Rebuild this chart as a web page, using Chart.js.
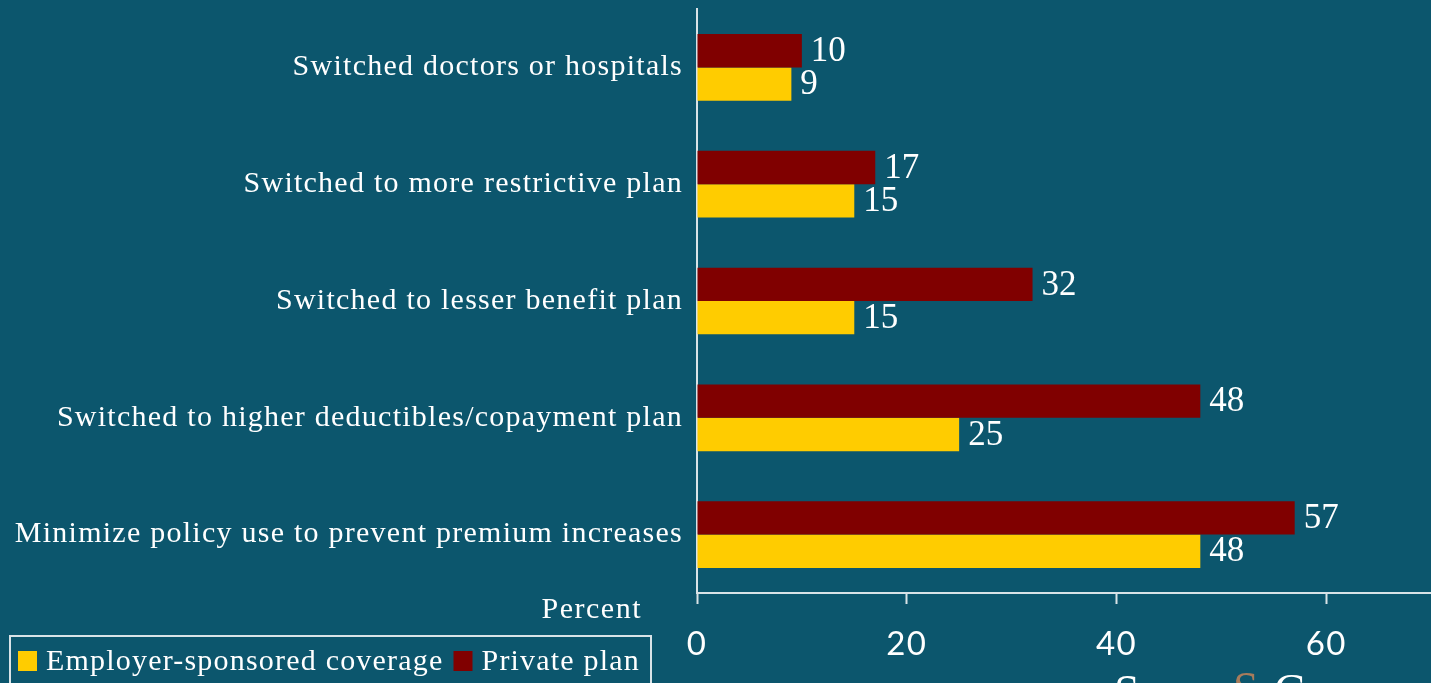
<!DOCTYPE html>
<html>
<head>
<meta charset="utf-8">
<script src="https://cdn.jsdelivr.net/npm/chart.js@4"></script>
<style>
    html, body { margin: 0; padding: 0; background: #0c566d; }
    #wrap { width: 1431px; height: 683px; position: relative; }
</style>
</head>
<body>
<div id="wrap"><canvas id="chart" width="1431" height="683"></canvas></div>
<script>
const categories = [
    'Switched doctors or hospitals',
    'Switched to more restrictive plan',
    'Switched to lesser benefit plan',
    'Switched to higher deductibles/copayment plan',
    'Minimize policy use to prevent premium increases'
];
const privatePlan = [10, 17, 32, 48, 57];
const employerCoverage = [9, 15, 15, 25, 48];
const xTicks = [0, 20, 40, 60];

const serif = "'Liberation Serif', 'Times New Roman', serif";
const axisColor = '#d9e3e7';

const spacing = {
    id: 'spacing',
    beforeDraw(chart){
        chart.ctx.letterSpacing = '1.25px';
    }
};

// value labels, axis title, legend box and the cut logo letters
const extras = {
    id: 'extras',
    afterDatasetsDraw(chart){
        const ctx = chart.ctx;
        ctx.save();
        ctx.font = '35px ' + serif;
        ctx.fillStyle = '#ffffff';
        ctx.textAlign = 'left';
        ctx.textBaseline = 'middle';
        ctx.letterSpacing = '0px';
        chart.data.datasets.forEach((ds, i) => {
            chart.getDatasetMeta(i).data.forEach((bar, j) => {
                ctx.fillText(String(ds.data[j]), bar.x + 9, bar.y + 1);
            });
        });
        ctx.restore();
    },
    afterDraw(chart){
        const ctx = chart.ctx;
        ctx.save();
        ctx.letterSpacing = '1.5px';
        ctx.fillStyle = '#ffffff';
        ctx.font = '30px ' + serif;
        ctx.textAlign = 'right';
        ctx.textBaseline = 'middle';
        ctx.fillText('Percent', 642, 610);

        // legend
        ctx.strokeStyle = axisColor;
        ctx.lineWidth = 2;
        ctx.strokeRect(10, 636, 641, 60);
        ctx.letterSpacing = '1.2px';
        ctx.textAlign = 'left';
        let x = 18;
        const items = [chart.data.datasets[1], chart.data.datasets[0]];
        items.forEach(ds => {
            ctx.fillStyle = ds.backgroundColor;
            ctx.fillRect(x, 651, 19, 20);
            ctx.fillStyle = '#ffffff';
            ctx.fillText(ds.label, x + 28, 662);
            x += 28 + ctx.measureText(ds.label).width + 10;
        });

        // logo letters cut by the bottom edge
        ctx.letterSpacing = '0px';
        ctx.textBaseline = 'alphabetic';
        ctx.font = '46px ' + serif;
        ctx.fillStyle = '#ffffff';
        ctx.fillText('S', 1114, 707);
        ctx.fillText('G', 1274, 706);
        ctx.fillStyle = '#a87c5c';
        ctx.fillText('S', 1233, 704);
        ctx.restore();
    }
};

new Chart('chart', {
    type: 'bar',
    data: {
        labels: categories,
        datasets: [
            {
                label: 'Private plan',
                data: privatePlan,
                backgroundColor: '#800000'
            },
            {
                label: 'Employer-sponsored coverage',
                data: employerCoverage,
                backgroundColor: '#ffcc00'
            }
        ]
    },
    options: {
        indexAxis: 'y',
        responsive: false,
        animation: false,
        layout: { padding: { top: 9, left: 0, right: 0, bottom: 0 } },
        datasets: {
            bar: { categoryPercentage: 0.571, barPercentage: 1 }
        },
        plugins: {
            legend: { display: false },
            tooltip: { enabled: false }
        },
        scales: {
            x: {
                min: 0,
                max: 70,
                afterBuildTicks: axis => {
                    axis.ticks = xTicks.map(v => ({ value: v }));
                },
                afterFit: axis => {
                    axis.height = 90;
                    axis.paddingLeft = 0;
                    axis.paddingRight = 0;
                },
                grid: {
                    drawOnChartArea: false,
                    drawTicks: true,
                    tickLength: 11,
                    tickWidth: 2,
                    color: axisColor
                },
                border: { display: true, color: axisColor, width: 2 },
                ticks: {
                    color: '#ffffff',
                    padding: 21,
                    font: { family: "Lato, 'Open Sans', sans-serif", size: 33 }
                }
            },
            y: {
                afterFit: axis => {
                    axis.width = 697;
                    axis.paddingTop = 0;
                    axis.paddingBottom = 0;
                },
                grid: { display: false, drawTicks: false },
                border: { display: true, color: axisColor, width: 2 },
                ticks: {
                    color: '#ffffff',
                    padding: 14,
                    font: { family: serif, size: 30 }
                }
            }
        }
    },
    plugins: [spacing, extras]
});
</script>
</body>
</html>
